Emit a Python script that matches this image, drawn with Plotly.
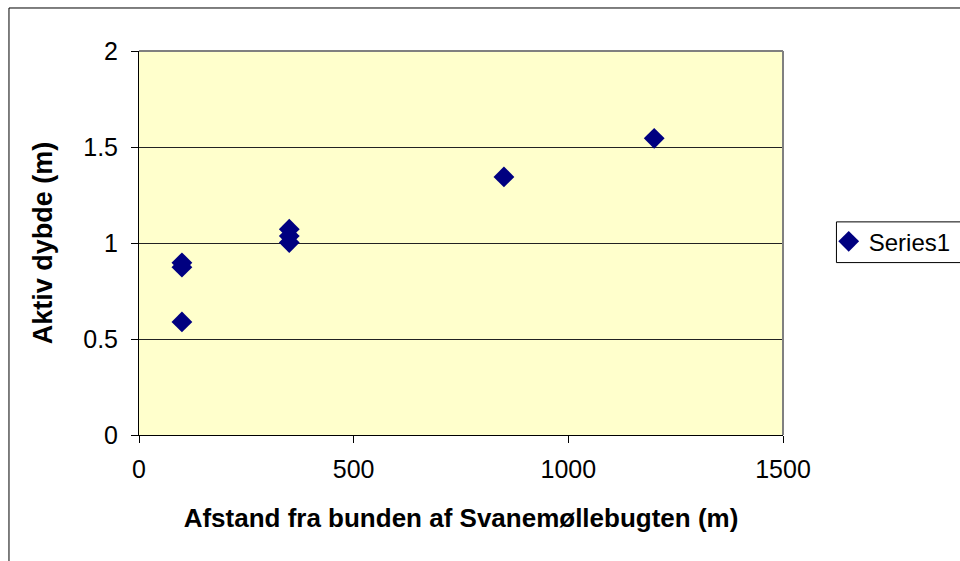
import plotly.graph_objects as go

x_vals = [100, 100, 100, 350, 350, 350, 850, 1200]
y_vals = [0.897, 0.874, 0.589, 1.072, 1.036, 1.002, 1.344, 1.545]
series_name = "Series1"
x_title = "Afstand fra bunden af Svanemøllebugten (m)"
y_title = "Aktiv dybde (m)"
x_ticks = [0, 500, 1000, 1500]
y_ticks = [0, 0.5, 1, 1.5, 2]

FONT = "Liberation Sans, Arial, sans-serif"

fig = go.Figure()
fig.add_trace(go.Scatter(
    x=x_vals, y=y_vals, mode="markers", name=series_name,
    marker=dict(symbol="diamond", size=16, color="#000080",
                line=dict(width=0)),
))

fig.update_layout(
    width=960, height=561,
    margin=dict(l=139, r=177, t=51, b=126, autoexpand=False),
    paper_bgcolor="white",
    plot_bgcolor="#FFFFCC",
    font=dict(family=FONT, size=25, color="black"),
    showlegend=True,
    legend=dict(x=1.071, y=0.562, xanchor="left", yanchor="top",
                bgcolor="rgba(0,0,0,0)", borderwidth=0,
                font=dict(size=24), itemwidth=30,
                tracegroupgap=0),
    xaxis=dict(range=[0, 1500], tickvals=x_ticks, ticktext=[str(v) for v in x_ticks],
               showgrid=False, zeroline=False, showline=True, linecolor="black",
               linewidth=1, ticks="outside", ticklen=7, tickcolor="black",
               ticklabelstandoff=5,
               title=dict(text="<b>" + x_title + "</b>", font=dict(size=26), standoff=26)),
    yaxis=dict(range=[0, 2], tickvals=y_ticks, ticktext=[str(v) for v in y_ticks],
               showgrid=True, gridcolor="#222222", gridwidth=1, zeroline=False,
               showline=True, linecolor="black", linewidth=1,
               ticks="outside", ticklen=7, tickcolor="black",
               ticklabelstandoff=8,
               title=dict(text="<b>" + y_title + "</b>", font=dict(size=27), standoff=22)),
    shapes=[
        dict(type="rect", xref="paper", yref="paper", x0=-0.2019, x1=1.5,
             y0=-0.6, y1=1.112, line=dict(color="black", width=1), layer="below"),
        dict(type="line", xref="paper", yref="paper", x0=0, x1=1, y0=1, y1=1,
             line=dict(color="#808080", width=2)),
        dict(type="line", xref="paper", yref="paper", x0=1, x1=1, y0=0, y1=1,
             line=dict(color="#808080", width=2)),
        dict(type="rect", xref="paper", yref="paper", x0=1.083, x1=1.4,
             y0=0.449, y1=0.555, line=dict(color="black", width=1)),
    ],
)

fig.write_html("out.html", config={"displayModeBar": False},
               post_script="document.body.style.margin='0px';document.body.style.padding='0px';")
